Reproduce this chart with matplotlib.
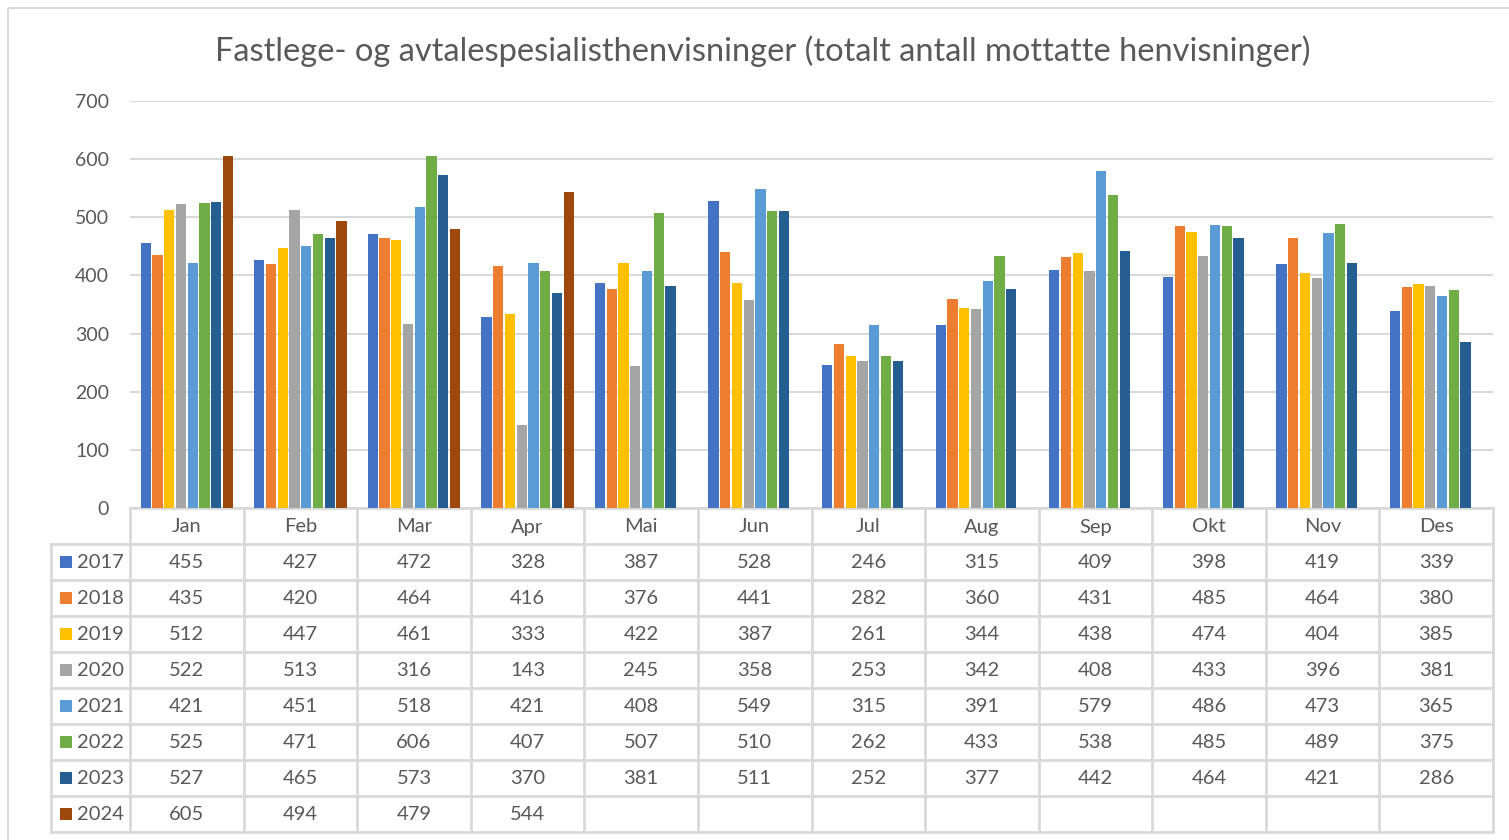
import matplotlib
matplotlib.use("Agg")
import matplotlib.pyplot as plt
import numpy as np
from matplotlib.patches import Rectangle

months = ["Jan", "Feb", "Mar", "Apr", "Mai", "Jun", "Jul", "Aug", "Sep", "Okt", "Nov", "Des"]
years = ["2017", "2018", "2019", "2020", "2021", "2022", "2023", "2024"]
v2017 = [455, 427, 472, 328, 387, 528, 246, 315, 409, 398, 419, 339]
v2018 = [435, 420, 464, 416, 376, 441, 282, 360, 431, 485, 464, 380]
v2019 = [512, 447, 461, 333, 422, 387, 261, 344, 438, 474, 404, 385]
v2020 = [522, 513, 316, 143, 245, 358, 253, 342, 408, 433, 396, 381]
v2021 = [421, 451, 518, 421, 408, 549, 315, 391, 579, 486, 473, 365]
v2022 = [525, 471, 606, 407, 507, 510, 262, 433, 538, 485, 489, 375]
v2023 = [527, 465, 573, 370, 381, 511, 252, 377, 442, 464, 421, 286]
v2024 = [605, 494, 479, 544, None, None, None, None, None, None, None, None]
series = [v2017, v2018, v2019, v2020, v2021, v2022, v2023, v2024]
colors = ["#4472C4", "#ED7D31", "#FFC000", "#A5A5A5", "#5B9BD5", "#70AD47", "#255E91", "#9E480E"]
title = "Fastlege- og avtalespesialisthenvisninger (totalt antall mottatte henvisninger)"

FONT = "Lato"
TXT = "#595959"
GRID = "#D9D9D9"
W, H = 1509, 840
fig = plt.figure(figsize=(W / 100, H / 100), dpi=100)
fig.patch.set_facecolor("white")

# background axes in pixel coordinates
bg = fig.add_axes([0, 0, 1, 1])
bg.set_xlim(0, W)
bg.set_ylim(H, 0)
bg.axis("off")
bg.add_patch(Rectangle((8, 8), W + 20, H + 20, fill=False, edgecolor=GRID, lw=1.5))

# plot area
L, R, T, B = 130, 1493, 101, 508
ax = fig.add_axes([L / W, (H - B) / H, (R - L) / W, (B - T) / H])
ax.set_xlim(-0.5, len(months) - 0.5)
ax.set_ylim(0, 700)
ax.set_facecolor("none")
for s in ax.spines.values():
    s.set_visible(False)
ax.set_yticks(range(0, 701, 100))
ax.yaxis.grid(True, color=GRID, lw=1.5)
ax.set_axisbelow(True)
ax.tick_params(axis="y", length=0, pad=15, labelsize=14, labelcolor=TXT)
ax.set_xticks([])
for lab in ax.get_yticklabels():
    lab.set_fontfamily(FONT)

colw = (R - L) / len(months)
slot = 11.75 / colw
bw = 10.2 / colw
x = np.arange(len(months))
for j, (vals, c) in enumerate(zip(series, colors)):
    arr = np.array([np.nan if v is None else v for v in vals], dtype=float)
    ax.bar(x + (j - 3.5) * slot, arr, width=bw, color=c, zorder=3)

fig.text(763 / W, 1 - 51 / H, title, ha="center", va="center", fontsize=23.5, color=TXT, family=FONT)

# data table
hdr_top = B
row_h = 36
n_rows = len(years)
tab_bottom = hdr_top + row_h * (n_rows + 1)
leg_left = 51
lc = dict(color=GRID, lw=2, zorder=1)
bg.plot([L, R], [hdr_top, hdr_top], **lc)
for r in range(1, n_rows + 2):
    y = hdr_top + r * row_h
    bg.plot([leg_left, R], [y, y], **lc)
bg.plot([leg_left, leg_left], [hdr_top + row_h, tab_bottom], **lc)
for i in range(len(months) + 1):
    xx = L + i * colw
    bg.plot([xx, xx], [hdr_top, tab_bottom], **lc)

for i, m in enumerate(months):
    bg.text(L + (i + 0.5) * colw, hdr_top + row_h / 2 + 1, m, ha="center", va="center",
            fontsize=14.5, color=TXT, family=FONT)
for r, (yr, vals, c) in enumerate(zip(years, series, colors)):
    yc = hdr_top + (r + 1.5) * row_h
    bg.add_patch(Rectangle((60, yc - 6), 12, 12, color=c, lw=0))
    bg.text(77, yc + 1, yr, ha="left", va="center", fontsize=14.5, color=TXT, family=FONT)
    for i, v in enumerate(vals):
        if v is None:
            continue
        bg.text(L + (i + 0.5) * colw, yc + 1, str(v), ha="center", va="center",
                fontsize=14.5, color=TXT, family=FONT)

fig.savefig("out.png", dpi=100)
